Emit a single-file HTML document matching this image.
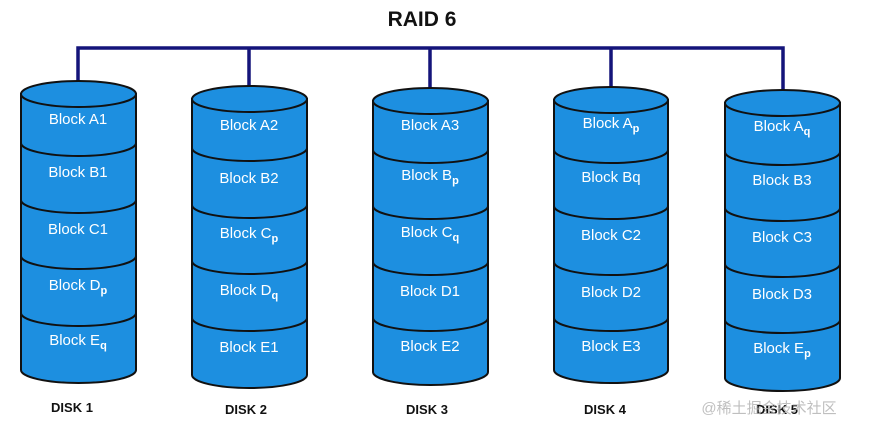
<!DOCTYPE html>
<html><head><meta charset="utf-8"><style>
html,body{margin:0;padding:0;background:#fff;width:869px;height:432px;overflow:hidden}
svg{display:block}
.t{font-family:"Liberation Sans",sans-serif;font-size:15px;fill:#fff;text-anchor:middle}
.d{font-family:"Liberation Sans",sans-serif;font-size:13px;font-weight:bold;fill:#111;text-anchor:middle}
.s{font-size:11px;font-weight:bold}
.b{fill:#1d8fe0;stroke:#111;stroke-width:2}
.l{fill:none;stroke:#111;stroke-width:2}
</style></head><body>
<svg width="869" height="432" viewBox="0 0 869 432">
<text x="422" y="26" font-family="Liberation Sans,sans-serif" font-size="21" font-weight="bold" text-anchor="middle" fill="#111">RAID 6</text>
<g stroke="#14147a" stroke-width="3.5" fill="none">
<path d="M78,86 V48 H783 V92"/>
<path d="M249,48 V88 M430,48 V90 M611,48 V90"/>
</g>

<!-- Disk 1 -->
<path class="b" d="M21,94 V370 A57.5,13 0 0 0 136,370 V94 Z"/>
<ellipse class="b" cx="78.5" cy="94" rx="57.5" ry="13"/>
<path class="l" d="M21,143 A57.5,13 0 0 0 136,143 M21,200 A57.5,13 0 0 0 136,200 M21,256 A57.5,13 0 0 0 136,256 M21,313 A57.5,13 0 0 0 136,313"/>
<text class="t" x="78" y="124">Block A1</text>
<text class="t" x="78" y="177">Block B1</text>
<text class="t" x="78" y="234">Block C1</text>
<text class="t" x="78" y="290">Block D<tspan class="s" dy="4">p</tspan></text>
<text class="t" x="78" y="345">Block E<tspan class="s" dy="4">q</tspan></text>
<text class="d" x="72" y="412">DISK 1</text>

<!-- Disk 2 -->
<path class="b" d="M192,99 V375 A57.5,13 0 0 0 307,375 V99 Z"/>
<ellipse class="b" cx="249.5" cy="99" rx="57.5" ry="13"/>
<path class="l" d="M192,148 A57.5,13 0 0 0 307,148 M192,205 A57.5,13 0 0 0 307,205 M192,261 A57.5,13 0 0 0 307,261 M192,318 A57.5,13 0 0 0 307,318"/>
<text class="t" x="249" y="130">Block A2</text>
<text class="t" x="249" y="183">Block B2</text>
<text class="t" x="249" y="238">Block C<tspan class="s" dy="4">p</tspan></text>
<text class="t" x="249" y="295">Block D<tspan class="s" dy="4">q</tspan></text>
<text class="t" x="249" y="352">Block E1</text>
<text class="d" x="246" y="414">DISK 2</text>

<!-- Disk 3 -->
<path class="b" d="M373,101 V372 A57.5,13 0 0 0 488,372 V101 Z"/>
<ellipse class="b" cx="430.5" cy="101" rx="57.5" ry="13"/>
<path class="l" d="M373,150 A57.5,13 0 0 0 488,150 M373,206 A57.5,13 0 0 0 488,206 M373,262 A57.5,13 0 0 0 488,262 M373,318 A57.5,13 0 0 0 488,318"/>
<text class="t" x="430" y="130">Block A3</text>
<text class="t" x="430" y="180">Block B<tspan class="s" dy="4">p</tspan></text>
<text class="t" x="430" y="237">Block C<tspan class="s" dy="4">q</tspan></text>
<text class="t" x="430" y="296">Block D1</text>
<text class="t" x="430" y="351">Block E2</text>
<text class="d" x="427" y="414">DISK 3</text>

<!-- Disk 4 -->
<path class="b" d="M554,100 V370 A57,13 0 0 0 668,370 V100 Z"/>
<ellipse class="b" cx="611" cy="100" rx="57" ry="13"/>
<path class="l" d="M554,150 A57,13 0 0 0 668,150 M554,206 A57,13 0 0 0 668,206 M554,262 A57,13 0 0 0 668,262 M554,318 A57,13 0 0 0 668,318"/>
<text class="t" x="611" y="128">Block A<tspan class="s" dy="4">p</tspan></text>
<text class="t" x="611" y="182">Block Bq</text>
<text class="t" x="611" y="240">Block C2</text>
<text class="t" x="611" y="297">Block D2</text>
<text class="t" x="611" y="351">Block E3</text>
<text class="d" x="605" y="414">DISK 4</text>

<!-- Disk 5 -->
<path class="b" d="M725,103 V378 A57.5,13 0 0 0 840,378 V103 Z"/>
<ellipse class="b" cx="782.5" cy="103" rx="57.5" ry="13"/>
<path class="l" d="M725,152 A57.5,13 0 0 0 840,152 M725,208 A57.5,13 0 0 0 840,208 M725,264 A57.5,13 0 0 0 840,264 M725,320 A57.5,13 0 0 0 840,320"/>
<text class="t" x="782" y="131">Block A<tspan class="s" dy="4">q</tspan></text>
<text class="t" x="782" y="185">Block B3</text>
<text class="t" x="782" y="242">Block C3</text>
<text class="t" x="782" y="299">Block D3</text>
<text class="t" x="782" y="353">Block E<tspan class="s" dy="4">p</tspan></text>
<text class="d" x="777" y="414">DISK 5</text>

<text x="769" y="413" font-family="Liberation Sans,'Noto Sans CJK SC',sans-serif" font-size="15" fill="#b8b8b8" fill-opacity="0.9" text-anchor="middle">@稀土掘金技术社区</text>
</svg>
</body></html>
